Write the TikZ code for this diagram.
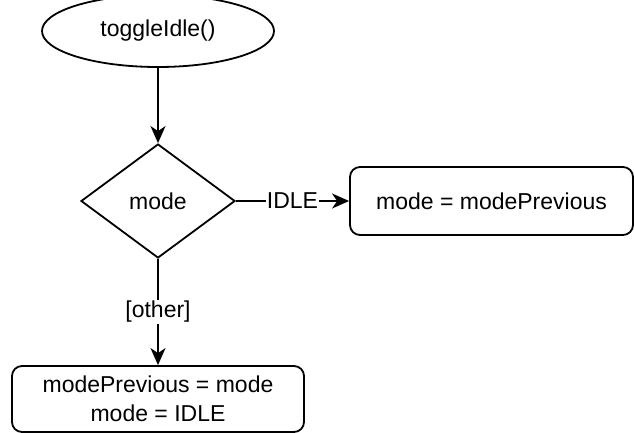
\documentclass[tikz,border=0pt]{standalone}
\usepackage{fontspec}
\setmainfont{Liberation Sans}
\usetikzlibrary{shapes.geometric, arrows.meta, positioning}

\begin{document}
\begin{tikzpicture}[
          x=1pt, y=-1pt,
          line width=1.8pt,
          font=\fontsize{23}{29}\selectfont,
          start/.style={ellipse, draw, minimum width=232pt, minimum height=72pt, inner sep=0pt},
          decision/.style={diamond, draw, minimum width=154pt, minimum height=114pt, inner sep=0pt},
          action/.style={rectangle, draw, rounded corners=10pt, align=center, inner sep=0pt},
          flow/.style={-{Stealth[length=17pt, width=15pt, inset=5pt]}},
          guard/.style={fill=white, inner sep=1pt}
        ]
        \useasboundingbox (0,0) rectangle (634,432);
        \node[start] (toggle) at (158,31) {toggleIdle()};
        \node[decision] (mode) at (158,201) {mode};
        \node[action, minimum width=283pt, minimum height=68pt] (restore) at (491.5,201) {mode = modePrevious};
        \node[action, minimum width=292pt, minimum height=66pt] (idle) at (158,399) {modePrevious = mode\\mode = IDLE};

        \draw[flow] (toggle) -- (mode);
        \draw[flow] (mode) -- node[guard] {IDLE} (restore);
        \draw[flow] (mode) -- node[guard] {[other]} (idle);
        \end{tikzpicture}
\end{document}
